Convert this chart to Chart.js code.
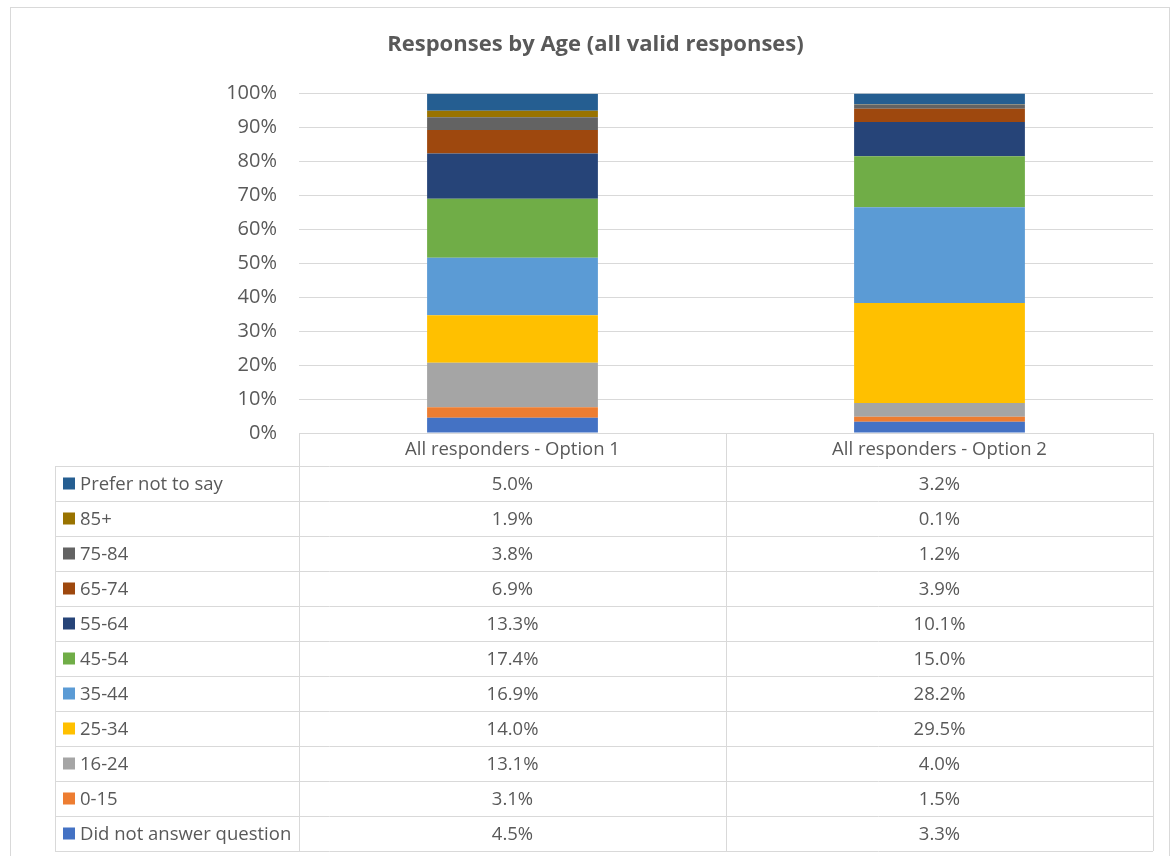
<!DOCTYPE html>
<html>
<head>
<meta charset="utf-8">
<script src="https://cdn.jsdelivr.net/npm/chart.js@4.4.0/dist/chart.umd.min.js"></script>
<style>
    html, body { margin: 0; padding: 0; background: #fff; }
    #wrap { width: 1171px; height: 856px; }
</style>
</head>
<body>
<div id="wrap"><canvas id="ageChart" width="1171" height="856"></canvas></div>
<script>
// Categories (x axis) and age groups, bottom of stack first
const categories = ['All responders - Option 1', 'All responders - Option 2'];
const ageGroups = ['Did not answer question', '0-15', '16-24', '25-34', '35-44', '45-54', '55-64', '65-74', '75-84', '85+', 'Prefer not to say'];

// Percent values per age group (same order as ageGroups)
const option1Values = [4.5, 3.1, 13.1, 14.0, 16.9, 17.4, 13.3, 6.9, 3.8, 1.9, 5.0];
const option2Values = [3.3, 1.5, 4.0, 29.5, 28.2, 15.0, 10.1, 3.9, 1.2, 0.1, 3.2];

const yTicks = [0, 10, 20, 30, 40, 50, 60, 70, 80, 90, 100];

const ageColors = ['#4472C4', '#ED7D31', '#A5A5A5', '#FFC000', '#5B9BD5', '#70AD47', '#264478', '#9E480E', '#636363', '#997300', '#255E91'];

const FONT = '"Open Sans", "Liberation Sans", sans-serif';
const TEXT_COLOR = '#595959';
const LINE_COLOR = '#D9D9D9';

const datasets = ageGroups.map((name, i) => ({
    label: name,
    data: [option1Values[i], option2Values[i]],
    backgroundColor: ageColors[i],
    borderWidth: 0
}));

// Draws the data table under the plot plus the outer frame
const dataTablePlugin = {
    id: 'dataTable',
    afterDraw(chart) {
        const ctx = chart.ctx;
        const area = chart.chartArea;
        const xScale = chart.scales.x;
        const rowH = 35;
        const headerH = 33;
        const legendLeft = 55;
        const colEdges = [area.left, (xScale.getPixelForValue(0) + xScale.getPixelForValue(1)) / 2, area.right];
        const top = area.bottom;
        const rowsTop = top + headerH;
        const rows = ageGroups.length;
        const bottom = rowsTop + rows * rowH;

        ctx.save();
        ctx.strokeStyle = LINE_COLOR;
        ctx.lineWidth = 1;

        // outer frame
        ctx.strokeRect(10.5, 7.5, 1159, 860);

        ctx.beginPath();
        // vertical column lines
        colEdges.forEach(x => {
            ctx.moveTo(Math.round(x) + 0.5, top);
            ctx.lineTo(Math.round(x) + 0.5, bottom);
        });
        // legend column left edge
        ctx.moveTo(legendLeft + 0.5, rowsTop);
        ctx.lineTo(legendLeft + 0.5, bottom);
        // horizontal row lines
        for (let r = 0; r <= rows; r++) {
            const y = Math.round(rowsTop + r * rowH) + 0.5;
            ctx.moveTo(legendLeft, y);
            ctx.lineTo(area.right, y);
        }
        ctx.stroke();

        ctx.fillStyle = TEXT_COLOR;
        ctx.font = '18.5px ' + FONT;
        ctx.textBaseline = 'middle';
        ctx.textAlign = 'center';

        // header row
        categories.forEach((c, i) => {
            ctx.fillText(c, xScale.getPixelForValue(i), top + headerH / 2);
        });

        // rows: top of stack first
        for (let r = 0; r < rows; r++) {
            const di = rows - 1 - r;
            const yMid = rowsTop + r * rowH + rowH / 2;
            ctx.fillStyle = ageColors[di];
            ctx.fillRect(63, yMid - 6, 12, 12);
            ctx.fillStyle = TEXT_COLOR;
            ctx.textAlign = 'left';
            ctx.fillText(ageGroups[di], 80, yMid + 1);
            ctx.textAlign = 'center';
            const vals = [option1Values[di], option2Values[di]];
            vals.forEach((v, i) => {
                ctx.fillText(v.toFixed(1) + '%', xScale.getPixelForValue(i), yMid + 1);
            });
        }
        ctx.restore();
    }
};

new Chart(document.getElementById('ageChart').getContext('2d'), {
    type: 'bar',
    data: {
        labels: categories,
        datasets: datasets
    },
    options: {
        responsive: false,
        animation: false,
        layout: {
            padding: { top: 20, right: 18, bottom: 423, left: 38 }
        },
        datasets: {
            bar: { categoryPercentage: 1, barPercentage: 0.4 }
        },
        plugins: {
            legend: { display: false },
            tooltip: { enabled: false },
            title: {
                display: true,
                text: 'Responses by Age (all valid responses)',
                color: TEXT_COLOR,
                font: { family: FONT, size: 22, weight: 'bold' },
                padding: { top: 12, bottom: 35 }
            }
        },
        scales: {
            x: {
                stacked: true,
                ticks: { display: false },
                grid: { display: false, drawTicks: false },
                border: { display: false }
            },
            y: {
                stacked: true,
                min: 0,
                max: 100,
                afterFit: scale => { scale.width = 261; },
                afterBuildTicks: scale => { scale.ticks = yTicks.map(v => ({ value: v })); },
                ticks: {
                    padding: 22,
                    color: TEXT_COLOR,
                    font: { family: FONT, size: 20 },
                    callback: v => v + '%'
                },
                grid: { color: LINE_COLOR, lineWidth: 1, drawTicks: false },
                border: { display: false }
            }
        }
    },
    plugins: [dataTablePlugin]
});
</script>
</body>
</html>
